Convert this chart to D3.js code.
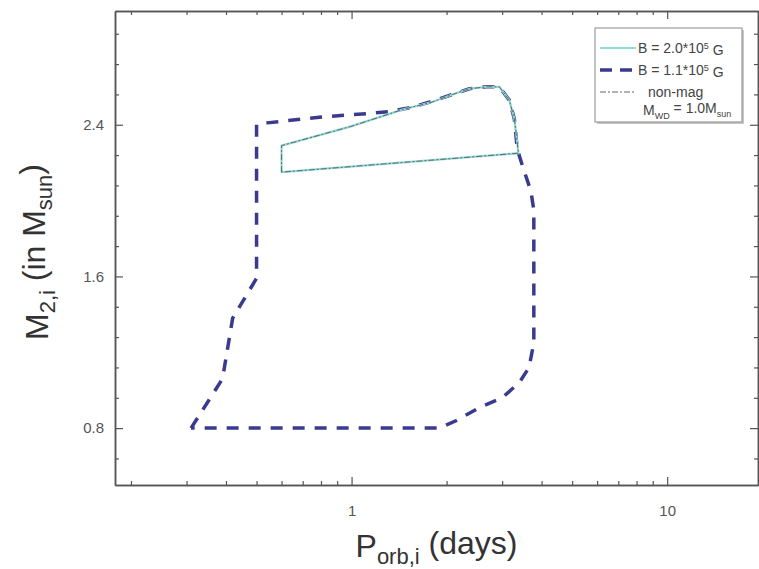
<!DOCTYPE html>
<html>
<head>
<meta charset="utf-8">
<script src="https://cdn.jsdelivr.net/npm/d3@7"></script>
<style>
  body { margin: 0; background: #fff; }
  svg { display: block; font-family: "Liberation Sans", Arial, sans-serif; }
  .axis path, .axis line { stroke: #555; }
  .axis path { stroke-width: 1.5; }
  .axis line { stroke-width: 1.2; }
  .axis text { fill: #555; font-size: 15px; }
</style>
</head>
<body>
<div id="chart"></div>
<script>
// initial orbital period (days) / donor mass (Msun) along each boundary
const strongP = [0.60, 0.60, 0.99, 1.45, 1.80, 2.09, 2.36, 2.68, 2.94, 3.16, 3.28, 3.38, 0.60];
const strongM = [2.15, 2.29, 2.39, 2.48, 2.52, 2.56, 2.59, 2.60, 2.60, 2.53, 2.43, 2.25, 2.15];

const weakP = [0.31, 0.39, 0.42, 0.50, 0.50, 0.54, 0.79, 1.14, 1.32, 1.53, 1.77, 2.09, 2.36, 2.68, 2.94, 3.16, 3.28, 3.35, 3.50, 3.70, 3.78, 3.78, 3.65, 3.40, 3.00, 2.55, 2.15, 1.90, 0.31];
const weakM = [0.80, 1.06, 1.38, 1.59, 2.40, 2.41, 2.44, 2.46, 2.47, 2.49, 2.52, 2.56, 2.59, 2.60, 2.60, 2.53, 2.43, 2.27, 2.17, 2.05, 1.95, 1.25, 1.12, 1.04, 0.96, 0.91, 0.84, 0.80, 0.80];

const nonMagP = [0.60, 0.60, 0.99, 1.45, 1.80, 2.09, 2.36, 2.68, 2.94, 3.16, 3.28, 3.38, 0.60];
const nonMagM = [2.15, 2.29, 2.39, 2.48, 2.52, 2.56, 2.59, 2.60, 2.60, 2.53, 2.43, 2.25, 2.15];

const xMajorTicks = [1, 10];
const yMajorTicks = [0.8, 1.6, 2.4];
const yMinorTicks = [0.64, 0.96, 1.12, 1.28, 1.44, 1.76, 1.92, 2.08, 2.24, 2.56, 2.72, 2.88];

const W = 759, H = 569;
const plotLeft = 115, plotRight = 758, plotTop = 11, plotBottom = 485;

const svg = d3.select("#chart").append("svg")
    .attr("width", W)
    .attr("height", H);

const x = d3.scaleLog().domain([0.178, 19.4]).range([plotLeft, plotRight]);
const y = d3.scaleLinear().domain([0.5, 3.0]).range([plotBottom, plotTop]);

const xMinor = x.ticks().filter(d => xMajorTicks.indexOf(d) < 0);

// frame + ticks (all pointing inward)
svg.append("g").attr("class", "axis")
    .attr("transform", "translate(0," + plotBottom + ")")
    .call(d3.axisBottom(x).tickValues(xMinor).tickSizeInner(-4).tickSizeOuter(0).tickFormat(""));
svg.append("g").attr("class", "axis")
    .attr("transform", "translate(0," + plotBottom + ")")
    .call(d3.axisBottom(x).tickValues(xMajorTicks).tickSizeInner(-8).tickSizeOuter(0)
        .tickPadding(20).tickFormat(d3.format("d")));
svg.append("g").attr("class", "axis")
    .attr("transform", "translate(0," + plotTop + ")")
    .call(d3.axisTop(x).tickValues(xMinor).tickSizeInner(-4).tickSizeOuter(0).tickFormat(""));
svg.append("g").attr("class", "axis")
    .attr("transform", "translate(0," + plotTop + ")")
    .call(d3.axisTop(x).tickValues(xMajorTicks).tickSizeInner(-8).tickSizeOuter(0).tickFormat(""));

svg.append("g").attr("class", "axis")
    .attr("transform", "translate(" + plotLeft + ",0)")
    .call(d3.axisLeft(y).tickValues(yMinorTicks).tickSizeInner(-4).tickSizeOuter(0).tickFormat(""));
svg.append("g").attr("class", "axis")
    .attr("transform", "translate(" + plotLeft + ",0)")
    .call(d3.axisLeft(y).tickValues(yMajorTicks).tickSizeInner(-8).tickSizeOuter(0)
        .tickPadding(11).tickFormat(d3.format(".1f")));
svg.append("g").attr("class", "axis")
    .attr("transform", "translate(" + plotRight + ",0)")
    .call(d3.axisRight(y).tickValues(yMinorTicks).tickSizeInner(-4).tickSizeOuter(0).tickFormat(""));
svg.append("g").attr("class", "axis")
    .attr("transform", "translate(" + plotRight + ",0)")
    .call(d3.axisRight(y).tickValues(yMajorTicks).tickSizeInner(-8).tickSizeOuter(0).tickFormat(""));

// curves
const line = d3.line()
    .x(d => x(d[0]))
    .y(d => y(d[1]));

svg.append("path")
    .datum(d3.zip(weakP, weakM))
    .attr("fill", "none")
    .attr("stroke", "#3a3a8e")
    .attr("stroke-width", 3.5)
    .attr("stroke-dasharray", "12,10")
    .attr("d", line);

svg.append("path")
    .datum(d3.zip(strongP, strongM))
    .attr("fill", "none")
    .attr("stroke", "#8cdcd8")
    .attr("stroke-width", 2.2)
    .attr("d", line);

svg.append("path")
    .datum(d3.zip(nonMagP, nonMagM))
    .attr("fill", "none")
    .attr("stroke", "#666")
    .attr("stroke-width", 1)
    .attr("stroke-dasharray", "6,2,2,2")
    .attr("d", line);

// axis titles
const xt = svg.append("text")
    .attr("x", (plotLeft + plotRight) / 2)
    .attr("y", 557)
    .attr("text-anchor", "middle")
    .attr("fill", "#333")
    .style("font-size", "32px");
xt.append("tspan").text("P");
xt.append("tspan").attr("dy", "0.3em").style("font-size", "22px").text("orb,i");
xt.append("tspan").attr("dy", "-0.3em").text(" (days)");

const yt = svg.append("text")
    .attr("transform", "translate(48,252) rotate(-90)")
    .attr("text-anchor", "middle")
    .attr("fill", "#333")
    .style("font-size", "32px");
yt.append("tspan").text("M");
yt.append("tspan").attr("dy", "0.3em").style("font-size", "22px").text("2,i");
yt.append("tspan").attr("dy", "-0.3em").text(" (in M");
yt.append("tspan").attr("dy", "0.3em").style("font-size", "22px").text("sun");
yt.append("tspan").attr("dy", "-0.3em").text(")");

// legend
const lg = svg.append("g");
lg.append("rect")
    .attr("x", 597).attr("y", 30).attr("width", 147).attr("height", 94)
    .attr("fill", "#c8c8c8");
lg.append("rect")
    .attr("x", 595).attr("y", 28).attr("width", 147).attr("height", 94)
    .attr("fill", "#fff").attr("stroke", "#888").attr("stroke-width", 1);

const rows = [
    { y: 48, stroke: "#8cdcd8", w: 2.2, dash: null },
    { y: 70, stroke: "#3a3a8e", w: 3.5, dash: "12,8" },
    { y: 92, stroke: "#666", w: 1, dash: "6,2,2,2" }
];
rows.forEach(r => {
    lg.append("line")
        .attr("x1", 600).attr("x2", 636)
        .attr("y1", r.y).attr("y2", r.y)
        .attr("stroke", r.stroke)
        .attr("stroke-width", r.w)
        .attr("stroke-dasharray", r.dash);
});

function legendText(yy, xx) {
    return lg.append("text").attr("x", xx).attr("y", yy + 5)
        .attr("fill", "#444").style("font-size", "14px");
}
let t = legendText(48, 638);
t.append("tspan").text("B = 2.0*10");
t.append("tspan").attr("dy", "-0.45em").style("font-size", "9px").text("5");
t.append("tspan").attr("dy", "0.45em").text(" G");
t = legendText(70, 638);
t.append("tspan").text("B = 1.1*10");
t.append("tspan").attr("dy", "-0.45em").style("font-size", "9px").text("5");
t.append("tspan").attr("dy", "0.45em").text(" G");
legendText(92, 648).text("non-mag");
t = legendText(110, 643);
t.append("tspan").text("M");
t.append("tspan").attr("dy", "0.4em").style("font-size", "9px").text("WD");
t.append("tspan").attr("dy", "-0.4em").text(" = 1.0M");
t.append("tspan").attr("dy", "0.4em").style("font-size", "9px").text("sun");
</script>
</body>
</html>
